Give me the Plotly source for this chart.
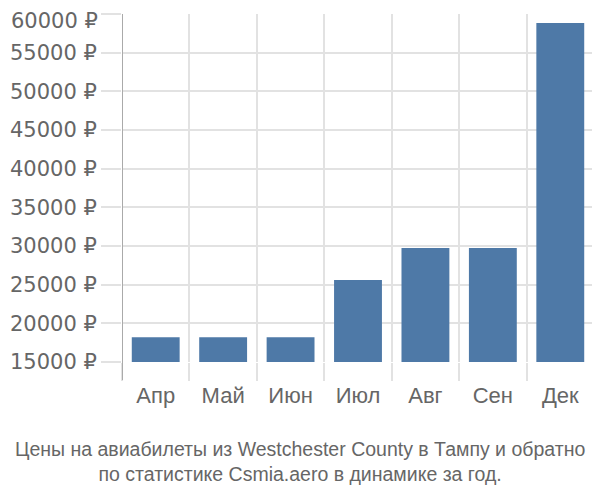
import plotly.graph_objects as go

months = ["Апр", "Май", "Июн", "Июл", "Авг", "Сен", "Дек"]
prices = [18200, 18200, 18200, 25600, 29750, 29750, 58850]
y_ticks = [15000, 20000, 25000, 30000, 35000, 40000, 45000, 50000, 55000, 60000]
y_labels = [f"{v} ₽" for v in y_ticks]
title_lines = ["Цены на авиабилеты из Westchester County в Тампу и обратно",
               "по статистике Csmia.aero в динамике за год."]

base = 15000
grid = "#e2e2e2"
text_color = "#666666"
label_font = dict(size=21, family="DejaVu Sans, sans-serif", color=text_color)

fig = go.Figure(go.Bar(
    x=months,
    y=[p - base for p in prices],
    base=base,
    marker=dict(color="#4e79a7", line=dict(width=0)),
    width=0.71,
))

# page has an 8px body margin; figure sized/offset to compensate
W, H = 592, 492
L, R, T, B = 114, 6, 6, 138
plot_h = H - T - B
plot_w = W - L - R

# the top tick label sits at the very edge of the page: draw it as an
# annotation nudged just inside the figure so it is not clipped
tick_text = y_labels[:-1] + [""]

fig.update_layout(
    width=W, height=H,
    margin=dict(l=L, r=R, t=T, b=B, autoexpand=False),
    paper_bgcolor="white", plot_bgcolor="white",
    showlegend=False,
    font=dict(family="Liberation Sans, Arial, sans-serif", color=text_color),
    xaxis=dict(
        type="category",
        range=[-0.5, 6.5],
        tickson="boundaries",
        ticks="outside", ticklen=18, tickcolor=grid, tickwidth=2,
        ticklabelstandoff=18,
        showgrid=True, gridcolor=grid, gridwidth=2,
        showline=False, zeroline=False, automargin=False,
        tickfont=dict(size=22, color=text_color),
    ),
    yaxis=dict(
        range=[15000, 60010],
        tickvals=y_ticks, ticktext=tick_text,
        ticks="outside", ticklen=20, tickcolor=grid, tickwidth=2,
        ticklabeloverflow="allow",
        showgrid=True, gridcolor=grid, gridwidth=2,
        showline=False, zeroline=False, automargin=False,
        tickfont=label_font,
    ),
    annotations=[
        dict(
            text="<br>".join(title_lines),
            xref="paper", yref="paper",
            x=(292 - L) / plot_w, y=(354 - 453) / plot_h,
            xanchor="center", yanchor="middle", showarrow=False,
            font=dict(size=19.5, color=text_color, family="Liberation Sans, Arial"),
            align="center",
        ),
        dict(
            text=y_labels[-1],
            xref="paper", yref="paper", x=0, y=1,
            xanchor="right", yanchor="top", xshift=-23, yshift=T,
            showarrow=False, borderpad=0,
            font=label_font,
        ),
    ],
    shapes=[dict(
        type="line", xref="x", yref="paper",
        x0=-0.5, x1=-0.5, y0=-18 / plot_h, y1=1,
        line=dict(color="#aaaaaa", width=2),
    )],
)

fig.write_html("out.html")
